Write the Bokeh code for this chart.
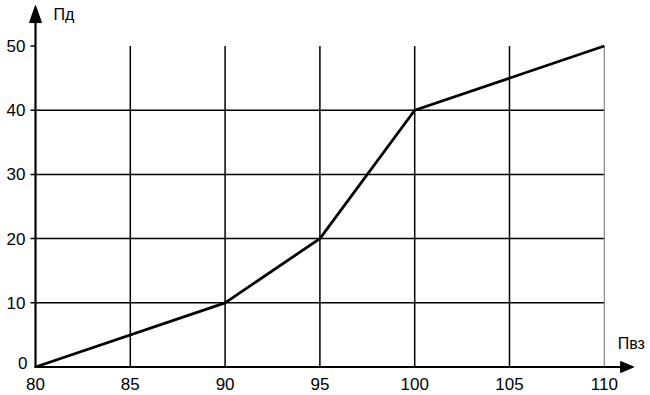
from bokeh.plotting import figure
from bokeh.models import Range1d, BoxAnnotation
from bokeh.core.properties import value
from bokeh.embed import file_html
from bokeh.resources import INLINE

# data
pvz = [80, 90, 95, 100, 110]
pd_vals = [0, 10, 20, 40, 50]
x_ticks = [80, 85, 90, 95, 100, 105, 110]
y_ticks = [0, 10, 20, 30, 40, 50]
x_title = "Пвз"
y_title = "Пд"

FONT = value("Liberation Sans")
X_END = 111.55
Y_END = 56.3
PX_X = 18.96   # pixels per x unit
PX_Y = 6.42    # pixels per y unit

p = figure(width=650, height=395, output_backend="svg", toolbar_location=None,
           x_range=Range1d(78.154, 112.437), y_range=Range1d(-4.44, 57.09),
           min_border=0, outline_line_color=None)
p.axis.visible = False
p.grid.visible = False

# x axis as a box annotation plus arrow head patch
p.add_layout(BoxAnnotation(left=80 - 1.1 / PX_X, right=X_END - 10 / PX_X,
                           bottom=-1.1 / PX_Y, top=1.1 / PX_Y,
                           fill_color="black", fill_alpha=1.0, line_color=None,
                           level="overlay"))
p.patch(x=[X_END - 13 / PX_X, X_END, X_END - 13 / PX_X],
        y=[5.5 / PX_Y, 0, -5.5 / PX_Y], fill_color="black", line_color="black", line_width=1)
# y axis
p.quad(left=[80 - 1.1 / PX_X], right=[80 + 1.1 / PX_X], bottom=[0], top=[Y_END - 12 / PX_Y],
       fill_color="black", line_color=None)
p.patch(x=[80 - 6 / PX_X, 80, 80 + 6 / PX_X],
        y=[Y_END - 17 / PX_Y, Y_END, Y_END - 17 / PX_Y], fill_color="black", line_color="black", line_width=1)

yt = y_ticks[1:]
# grid: horizontal lines (10..40)
hy = [v for v in y_ticks if 0 < v < max(y_ticks)]
p.segment(x0=[x_ticks[0]] * len(hy), x1=[x_ticks[-1]] * len(hy), y0=hy, y1=hy,
          line_color="black", line_width=1.5)
# vertical lines
vx = x_ticks[1:-1]
p.segment(x0=vx, x1=vx, y0=[0] * len(vx), y1=[y_ticks[-1]] * len(vx),
          line_color="black", line_width=1.5)
p.segment(x0=[x_ticks[-1]], x1=[x_ticks[-1]], y0=[0], y1=[y_ticks[-1]],
          line_color="#888888", line_width=1.2)
# small ticks on y axis
p.segment(x0=[80 - 5 / PX_X] * len(yt), x1=[80] * len(yt), y0=yt, y1=yt,
          line_color="black", line_width=1.5)

# data line
p.line(pvz, pd_vals, line_color="black", line_width=2.8)

# tick labels
p.text(x=[80] * len(yt), y=yt, text=[str(v) for v in yt], x_offset=-10,
       text_align="right", text_baseline="middle", text_font=FONT,
       text_font_size="17px", text_color="black")
p.text(x=[80], y=[0], text=["0"], x_offset=-8, y_offset=-4,
       text_align="right", text_baseline="middle", text_font=FONT,
       text_font_size="17px", text_color="black")
p.text(x=x_ticks, y=[-2.65] * len(x_ticks), text=[str(v) for v in x_ticks],
       text_align="center", text_baseline="middle", text_font=FONT,
       text_font_size="17px", text_color="black")
p.text(x=[80], y=[Y_END - 1.4], text=[y_title], x_offset=18,
       text_align="left", text_baseline="middle", text_font=FONT,
       text_font_size="16px", text_color="black")
p.text(x=[X_END], y=[3.6], text=[x_title], x_offset=-16,
       text_align="left", text_baseline="middle", text_font=FONT,
       text_font_size="16px", text_color="black")

open("out.html", "w").write(file_html(p, INLINE))
